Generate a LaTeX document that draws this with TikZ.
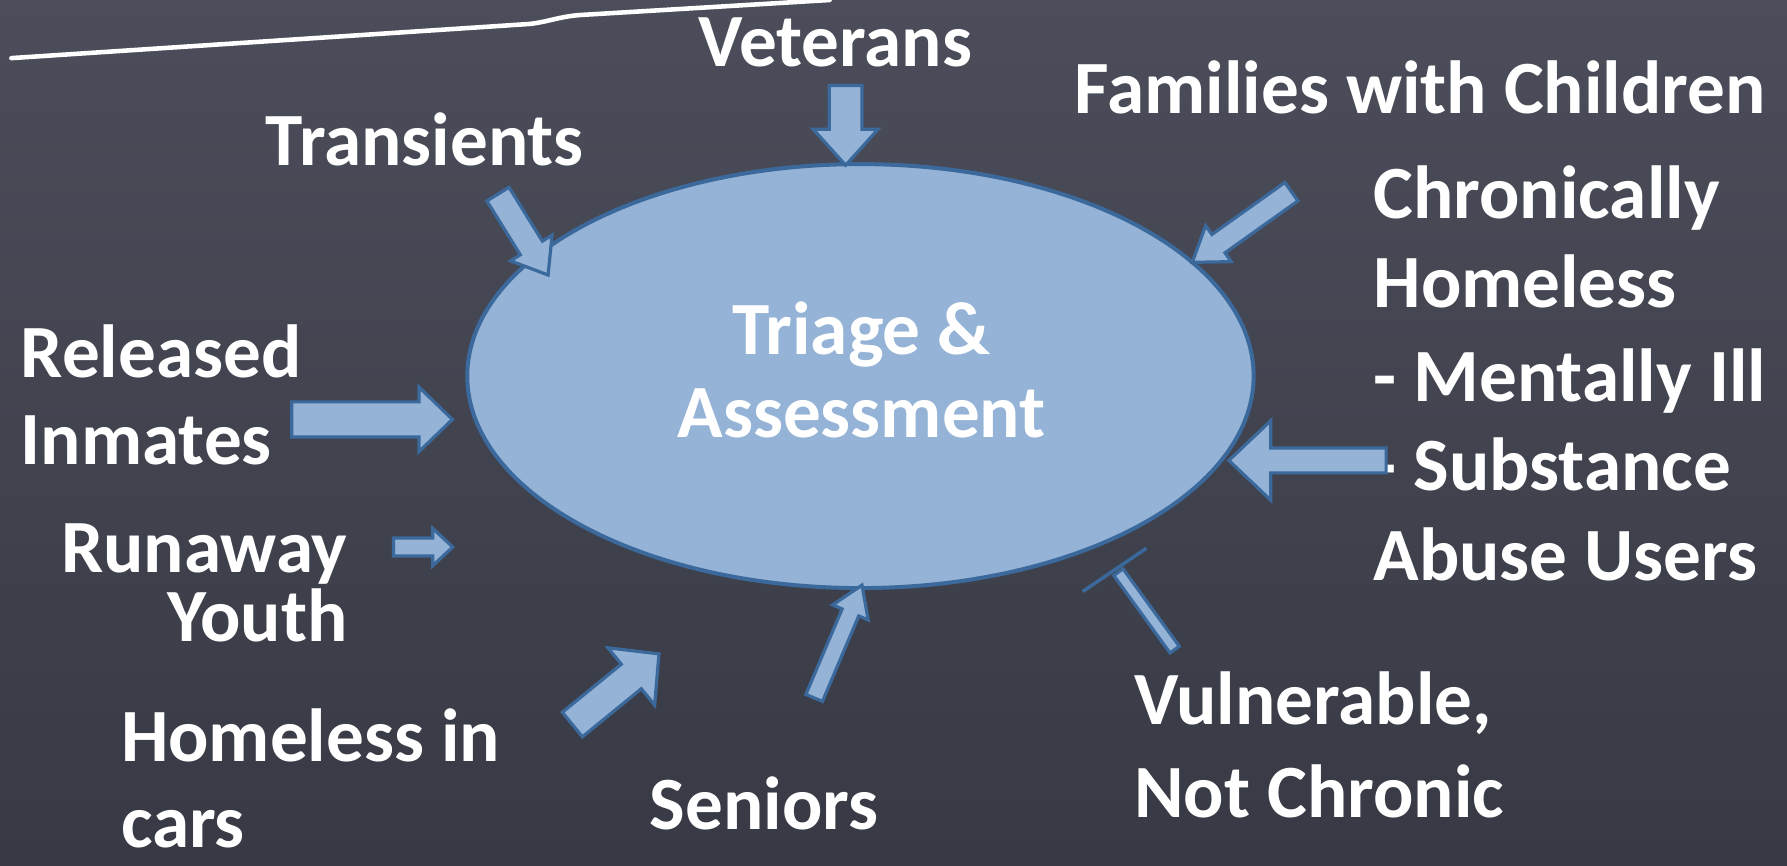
\documentclass[tikz,border=0pt]{standalone}
\usepackage{fontspec}
\setmainfont{Carlito}
\usetikzlibrary{shapes.geometric,shapes.arrows}
\definecolor{boardtop}{HTML}{4B4E5A}
\definecolor{boardbot}{HTML}{373A44}
\definecolor{hubfill}{HTML}{94B3D6}
\definecolor{hubline}{HTML}{3B699C}
\tikzset{
  lbl/.style={text=white, font=\bfseries\fontsize{66}{66}\selectfont, inner sep=0pt},
  hubstyle/.style={ellipse, fill=hubfill, draw=hubline, line width=3.5pt, inner sep=0pt},
  blockarrow/.style={single arrow, fill=hubfill, draw=hubline, line width=2.8pt,
    inner xsep=0pt, minimum width=0pt, line join=miter},
  barbox/.style={rectangle, fill=hubfill, draw=hubline, line width=2.8pt, inner sep=0pt},
  chalk/.style={white, line width=4pt, line cap=round, line join=round},
}
% name, tail x, tail y, tip x, tip y, half shaft, head extend, tip angle (y measured downwards)
\newcommand\blockarr[8]{%
  \pgfmathsetmacro\bang{atan2((#3)-(#5),(#4)-(#2))}%
  \pgfmathsetmacro\blen{veclen((#4)-(#2),(#5)-(#3))}%
  \pgfmathsetmacro\bmx{((#2)+(#4))/2}%
  \pgfmathsetmacro\bmy{-((#3)+(#5))/2}%
  \node[blockarrow, rotate=\bang, minimum height=\blen pt, inner ysep=#6pt,
    single arrow head extend=#7pt, single arrow tip angle=#8] (#1) at (\bmx,\bmy) {};}
\begin{document}
\begin{tikzpicture}[x=1pt,y=1pt]
\shade[top color=boardtop, bottom color=boardbot] (0,0) rectangle (1568,-759);
\useasboundingbox (0,0) rectangle (1568,-759);

% chalk line
\coordinate (c1) at (10,-51);
\coordinate (c2) at (465,-21);
\coordinate (c3) at (512,-13);
\coordinate (c4) at (728,0);
\draw[chalk] (c1) -- (c2) .. controls (482,-19) and (492,-14) .. (c3) -- (c4);

% labels
\node[lbl, anchor=base] (vet) at (733,-58) {Veterans};
\node[lbl, anchor=base west] (trans) at (233,-145) {Transients};
\node[lbl, anchor=base west] (fam) at (943,-100) {Families with Children};
\node[lbl, anchor=base west] (chr1) at (1205,-192) {Chronically};
\node[lbl, anchor=base west] (chr2) at (1205,-270) {Homeless};
\node[lbl, anchor=base west] (chr3) at (1205,-352) {- Mentally Ill};
\node[lbl, anchor=base west] (chr4) at (1205,-430) {- Substance};
\node[lbl, anchor=base west] (chr5) at (1205,-509) {Abuse Users};
\node[lbl, anchor=base west] (rel1) at (18,-331) {Released};
\node[lbl, anchor=base west] (rel2) at (18,-408) {Inmates};
\node[lbl, anchor=base east] (run1) at (305,-502) {Runaway};
\node[lbl, anchor=base east] (run2) at (305,-563) {Youth};
\node[lbl, anchor=base west] (car1) at (106,-668) {Homeless in};
\node[lbl, anchor=base west] (car2) at (106,-744) {cars};
\node[lbl, anchor=base west] (sen) at (570,-728) {Seniors};
\node[lbl, anchor=base west] (vul1) at (995,-636) {Vulnerable,};
\node[lbl, anchor=base west] (vul2) at (995,-717) {Not Chronic};

% hub
\node[hubstyle, minimum width=690pt, minimum height=372pt] (hub) at (755,-330) {};
\node[lbl, anchor=base] (tri1) at (756,-311) {Triage \&};
\node[lbl, anchor=base] (tri2) at (756,-384) {Assessment};

% block arrows
\blockarr{aVet}{742}{67}{742}{137}{13}{14}{84}
\blockarr{aTrans}{433}{164}{477}{235}{10}{10}{75}
\blockarr{aFam}{1139}{164}{1052}{226}{8.5}{9.5}{69}
\blockarr{aChr}{1222}{404}{1084}{404}{9.5}{24}{87}
\blockarr{aRel}{248}{368}{389}{368}{14}{13}{88}
\blockarr{aRun}{341}{480}{393}{480}{6.5}{8.5}{86}
\blockarr{aCar}{497}{640}{573}{578}{12.5}{18.5}{92}
\blockarr{aSen}{712}{618}{754}{519}{6.5}{9}{66}

% broken arrow (vulnerable)
\node[barbox, rotate=126, minimum width=84pt, minimum height=10pt] (vbar) at (1006,-536) {};
\coordinate (vc1) at (950,-519);
\coordinate (vc2) at (1006,-481);
\draw[hubline, line width=3pt] (vc1) -- (vc2);
\end{tikzpicture}
\end{document}
